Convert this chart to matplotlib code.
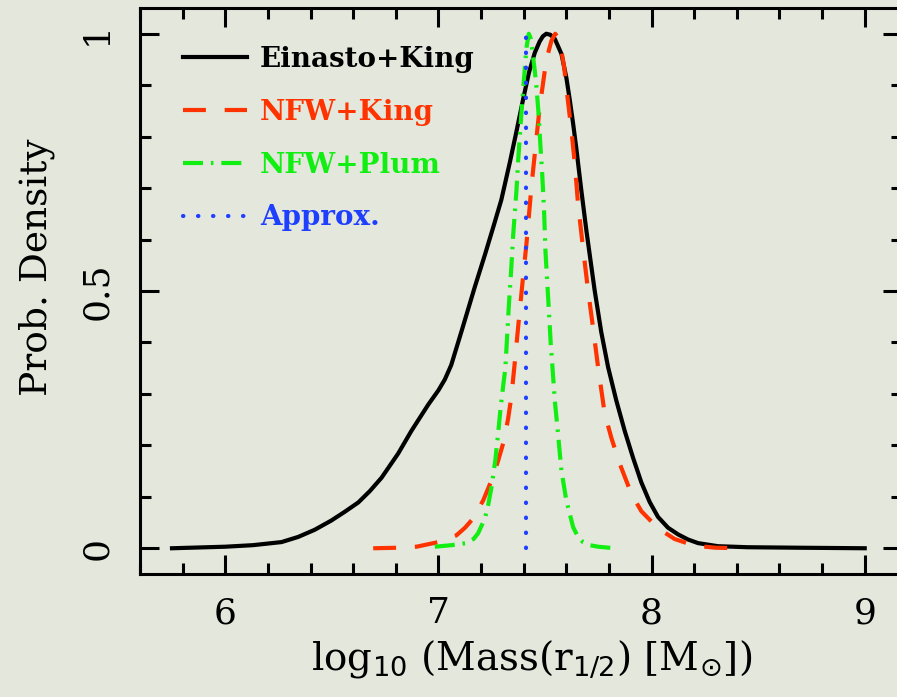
import numpy as np
import matplotlib
matplotlib.use("Agg")
import matplotlib.pyplot as plt
from matplotlib.ticker import MultipleLocator

# Posterior curves for log10 of the mass within the half-light radius
ein_x = [5.75, 6.0, 6.13, 6.264, 6.342, 6.42, 6.498, 6.561, 6.624, 6.678, 6.733,
         6.811, 6.873, 6.952, 7.0, 7.03, 7.06, 7.11, 7.17, 7.22, 7.26, 7.295, 7.335,
         7.365, 7.397, 7.425, 7.452, 7.475, 7.49, 7.506, 7.525, 7.546, 7.577,
         7.60, 7.616, 7.632, 7.647, 7.67, 7.694, 7.733, 7.764, 7.796, 7.834,
         7.874, 7.913, 7.952, 7.991, 8.03, 8.077, 8.124, 8.171, 8.218, 8.311,
         8.45, 8.7, 9.0]
ein_y = [0.0, 0.003, 0.006, 0.012, 0.022, 0.036, 0.054, 0.071, 0.089, 0.111, 0.137,
         0.184, 0.228, 0.279, 0.307, 0.328, 0.356, 0.424, 0.507, 0.573, 0.628, 0.677,
         0.750, 0.808, 0.872, 0.925, 0.963, 0.985, 0.995, 1.0, 0.998, 0.99, 0.961,
         0.915, 0.872, 0.825, 0.777, 0.697, 0.618, 0.501, 0.420, 0.352, 0.288,
         0.228, 0.176, 0.128, 0.090, 0.061, 0.040, 0.027, 0.017, 0.010, 0.004,
         0.002, 0.001, 0.0]

nfwk_x = [6.694, 6.81, 6.897, 7.0, 7.084, 7.125, 7.163, 7.21, 7.249, 7.28, 7.308,
          7.327, 7.342, 7.358, 7.374, 7.397, 7.413, 7.428, 7.436, 7.452, 7.475,
          7.499, 7.515, 7.53, 7.548, 7.562, 7.577, 7.59, 7.60, 7.624, 7.64, 7.655,
          7.678, 7.702, 7.725, 7.749, 7.78, 7.811, 7.85, 7.905, 7.952, 8.03,
          8.108, 8.202, 8.30, 8.42]
nfwk_y = [0.0, 0.001, 0.003, 0.012, 0.025, 0.040, 0.058, 0.093, 0.132, 0.170, 0.21,
          0.252, 0.294, 0.36, 0.43, 0.527, 0.592, 0.663, 0.702, 0.766, 0.857,
          0.928, 0.963, 0.986, 1.0, 0.992, 0.967, 0.935, 0.896, 0.812, 0.747, 0.669,
          0.585, 0.501, 0.43, 0.352, 0.262, 0.215, 0.165, 0.106, 0.072, 0.039,
          0.018, 0.005, 0.001, 0.0]

nfwp_x = [6.983, 7.061, 7.131, 7.165, 7.186, 7.218, 7.233, 7.249, 7.267, 7.28,
          7.292, 7.303, 7.314, 7.33, 7.342, 7.35, 7.358, 7.366, 7.374, 7.389,
          7.402, 7.413, 7.424, 7.432, 7.439, 7.452, 7.46, 7.47, 7.478, 7.486,
          7.495, 7.502, 7.511, 7.519, 7.527, 7.535, 7.546, 7.561, 7.577, 7.60,
          7.632, 7.655, 7.678, 7.71, 7.749, 7.827]
nfwp_y = [0.003, 0.006, 0.010, 0.018, 0.029, 0.058, 0.083, 0.119, 0.171, 0.223,
          0.274, 0.313, 0.350, 0.469, 0.546, 0.604, 0.650, 0.695, 0.753, 0.844,
          0.915, 0.973, 1.0, 0.992, 0.973, 0.928, 0.896, 0.844, 0.786, 0.734,
          0.663, 0.579, 0.514, 0.456, 0.397, 0.352, 0.287, 0.223, 0.151, 0.093,
          0.041, 0.022, 0.012, 0.006, 0.003, 0.0]

approx_x = [7.413, 7.413]
approx_y = [0.0, 1.0]

labels = ["Einasto+King", "NFW+King", "NFW+Plum", "Approx."]
colors = ["black", "#ff3300", "#11ee11", "#1f3fff"]

bg = "#e4e7dc"
plt.rcParams["font.family"] = "DejaVu Serif"

fig = plt.figure(figsize=(8.97, 6.97), dpi=100, facecolor=bg)
ax = fig.add_axes([0.1561, 0.1765, 0.8495, 0.812])
ax.set_facecolor(bg)

lw = 3.0
ax.plot(ein_x, ein_y, color=colors[0], lw=lw, label=labels[0])
ax.plot(nfwk_x, nfwk_y, color=colors[1], lw=lw, dashes=(5.5, 4.5), label=labels[1])
ax.plot(nfwp_x, nfwp_y, color=colors[2], lw=lw, dashes=(4.8, 1.9, 0.6, 1.9),
        label=labels[2])
ax.plot(approx_x, approx_y, color=colors[3], lw=lw, dashes=(0.1, 3.5),
        dash_capstyle="round", label=labels[3])

ax.set_xlim(5.6, 9.175)
ax.set_ylim(-0.05, 1.05)
ax.xaxis.set_major_locator(MultipleLocator(1))
ax.xaxis.set_minor_locator(MultipleLocator(0.2))
ax.yaxis.set_minor_locator(MultipleLocator(0.1))
ax.set_yticks([0, 0.5, 1])
ax.set_yticklabels(["0", "0.5", "1"], rotation=90, va="center")

ax.tick_params(which="both", direction="in", top=True, right=True, width=2.2,
               labelsize=26, colors="black")
ax.tick_params(which="major", length=14)
ax.tick_params(which="minor", length=8)
ax.tick_params(axis="x", pad=16)
ax.tick_params(axis="y", pad=19)
for s in ax.spines.values():
    s.set_linewidth(2.2)

ax.set_xlabel(r"log$_{10}$ (Mass(r$_{1/2}$) [M$_{\odot}$])", fontsize=28)
ax.xaxis.set_label_coords(0.514, -0.113)
ax.set_ylabel("Prob. Density", fontsize=27)
ax.yaxis.set_label_coords(-0.112, 0.542)

leg = ax.legend(loc="upper left", bbox_to_anchor=(0.0564, 0.933), frameon=False,
                borderpad=0, borderaxespad=0, handlelength=2.3, handletextpad=0.47,
                labelspacing=0.93, prop={"weight": "bold", "size": 20})
for txt, c in zip(leg.get_texts(), colors):
    txt.set_color(c)

plt.savefig("out.png", dpi=100, facecolor=bg)
